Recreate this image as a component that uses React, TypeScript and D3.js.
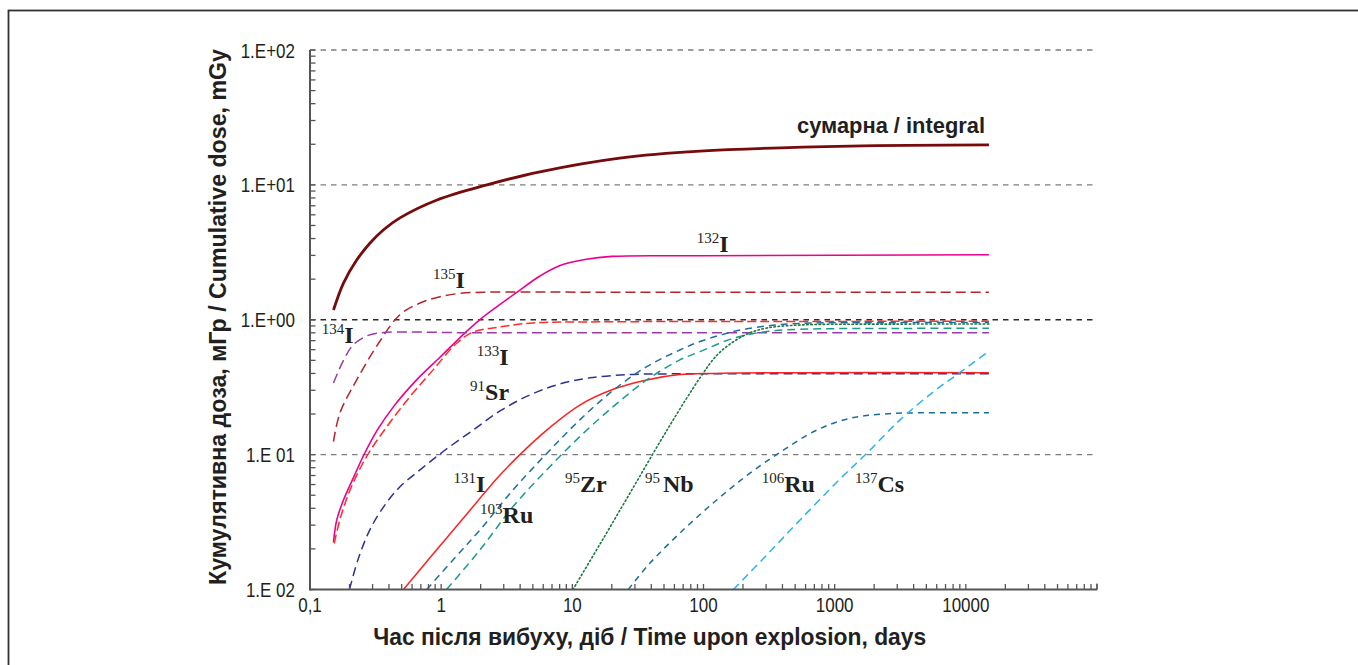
import React from 'react';
import * as d3 from 'd3';

type Pt = [number, number];

// ---- axis ticks ----
const xTickValues = [0.1, 1, 10, 100, 1000, 10000];
const xTickLabels = ['0,1', '1', '10', '100', '1000', '10000'];
const yTickValues = [100, 10, 1, 0.1, 0.01];
const yTickLabels = ['1.E+02', '1.E+01', '1.E+00', '1.E 01', '1.E 02'];

// ---- series: [days, cumulative dose mGy] ----
const integralDose: Pt[] = [[0.151, 1.18], [0.18, 1.87], [0.227, 2.77], [0.286, 3.69], [0.362, 4.63], [0.485, 5.69], [0.93, 7.73], [2.23, 10], [5.66, 12.5], [23, 15.8], [94, 17.8], [1310, 19.4], [15000, 19.8]];
const i132: Pt[] = [[0.151, 0.0224], [0.16, 0.0328], [0.18, 0.0461], [0.214, 0.0672], [0.255, 0.0977], [0.323, 0.15], [0.432, 0.226], [0.65, 0.358], [0.98, 0.527], [1.52, 0.8], [2.04, 1.03], [3.72, 1.58], [5.66, 2.11], [8.05, 2.53], [12.5, 2.8], [20, 2.95], [100, 2.98], [15000, 3.03]];
const i135: Pt[] = [[0.151, 0.125], [0.169, 0.203], [0.227, 0.358], [0.34, 0.69], [0.485, 1.09], [0.69, 1.33], [0.98, 1.48], [1.39, 1.57], [2.1, 1.6], [20, 1.6], [15000, 1.6]];
const i134: Pt[] = [[0.151, 0.34], [0.18, 0.5], [0.213, 0.65], [0.272, 0.76], [0.342, 0.8], [2, 0.8], [15000, 0.8]];
const i133: Pt[] = [[0.153, 0.022], [0.169, 0.0328], [0.202, 0.0547], [0.27, 0.0967], [0.385, 0.161], [0.578, 0.269], [0.867, 0.425], [1.32, 0.673], [1.75, 0.81], [2.81, 0.885], [5.0, 0.947], [16.3, 0.965], [200, 0.97], [15000, 0.975]];
const sr91: Pt[] = [[0.2, 0.01], [0.232, 0.0166], [0.286, 0.0277], [0.373, 0.0424], [0.485, 0.0577], [0.69, 0.0771], [1.03, 0.105], [1.75, 0.152], [2.81, 0.211], [4.75, 0.277], [8.05, 0.334], [13.6, 0.371], [27.6, 0.393], [55.6, 0.397], [200, 0.397], [15000, 0.397]];
const i131: Pt[] = [[0.516, 0.01], [0.871, 0.0184], [1.57, 0.0363], [2.81, 0.0705], [4.11, 0.103], [6.38, 0.152], [11.4, 0.233], [20.5, 0.305], [36.9, 0.358], [66, 0.392], [119, 0.4], [500, 0.405], [15000, 0.405]];
const ru103: Pt[] = [[0.776, 0.01], [1.31, 0.0177], [1.98, 0.0277], [3.53, 0.0547], [6.38, 0.102], [11.4, 0.181], [20.5, 0.3], [36.9, 0.449], [66, 0.597], [94, 0.689], [169, 0.817], [303, 0.9], [545, 0.94], [3000, 0.952], [15000, 0.955]];
const zr95: Pt[] = [[1.1, 0.01], [1.98, 0.0197], [3.53, 0.0412], [6.38, 0.0771], [11.4, 0.136], [20.5, 0.227], [36.9, 0.358], [66, 0.504], [94, 0.58], [169, 0.73], [303, 0.817], [545, 0.85], [3000, 0.862], [15000, 0.865]];
const nb95: Pt[] = [[10.1, 0.01], [16.3, 0.0218], [29, 0.0566], [52.7, 0.152], [94, 0.371], [127, 0.548], [168, 0.684], [226, 0.8], [305, 0.869], [545, 0.914], [3000, 0.928], [15000, 0.93]];
const ru106: Pt[] = [[26.7, 0.01], [39.1, 0.0157], [70.2, 0.0277], [126, 0.0461], [226, 0.0728], [406, 0.108], [729, 0.152], [1309, 0.186], [2350, 0.2], [4220, 0.204], [15000, 0.204]];
const cs137: Pt[] = [[169, 0.01], [303, 0.018], [545, 0.0328], [1099, 0.066], [1754, 0.102], [3150, 0.181], [5650, 0.292], [8510, 0.39], [14750, 0.577]];

// ---- isotope labels: superscript mass number, element, anchor [days, dose] ----
const isoSup = ['132', '135', '134', '133', '91', '131', '103', '95', '95', '106', '137'];
const isoEl = ['I', 'I', 'I', 'I', 'Sr', 'I', 'Ru', 'Zr', 'Nb', 'Ru', 'Cs'];
const isoAnchor: Pt[] = [[89, 3.18], [0.866, 1.72], [0.123, 0.673], [1.87, 0.462], [1.66, 0.254], [1.24, 0.0529], [1.98, 0.0312], [8.79, 0.0529], [35.8, 0.0529], [278, 0.0529], [1430, 0.0529]];
const isoGap = [0, 0, 0, 0, 0, 0, 0, 0, 3, 0, 0];

const integralLabel = 'сумарна / integral';
const integralLabelAnchor: Pt = [14000, 24.3];
const xTitle = 'Час після вибуху, діб / Time upon explosion, days';
const yTitle = 'Кумулятивна доза, мГр / Cumulative dose, mGy';

const series = [
  { data: i132, color: '#ec008c', width: 1.6, dash: undefined as string | undefined },
  { data: i135, color: '#b3242b', width: 1.5, dash: '10,5' },
  { data: i134, color: '#9a3aa6', width: 1.5, dash: '10,5' },
  { data: i133, color: '#ff2b2b', width: 1.5, dash: '9,4' },
  { data: sr91, color: '#2e3192', width: 1.5, dash: '9,5' },
  { data: i131, color: '#ff2020', width: 1.5, dash: undefined },
  { data: ru103, color: '#1f6f9b', width: 1.5, dash: '7,5' },
  { data: zr95, color: '#1a9c8c', width: 1.5, dash: '8,5' },
  { data: nb95, color: '#167a3c', width: 1.6, dash: '1.5,2.6' },
  { data: ru106, color: '#1b6e96', width: 1.5, dash: '6,5' },
  { data: cs137, color: '#29b3ea', width: 1.5, dash: '8,5' },
  { data: integralDose, color: '#770a0a', width: 2.8, dash: undefined },
];

const W = 1358;
const H = 665;
const X0 = 310, X1 = 1097, Y0 = 589.5, Y1 = 50;

export default function App() {
  const x = d3.scaleLog().domain([0.1, 100000]).range([X0, X1]);
  const y = d3.scaleLog().domain([0.01, 100]).range([Y0, Y1]);
  const line = d3.line<Pt>().x(d => x(d[0])).y(d => y(d[1])).curve(d3.curveCatmullRom.alpha(0.5));
  const xMinor = x.ticks();
  const yMinor = y.ticks();
  const textColor = '#231f20';

  return (
    <svg width={W} height={H} style={{ position: 'absolute', left: 0, top: 0 }}>
      <rect x={0} y={0} width={W} height={H} fill="#fff" />
      <rect x={8.5} y={10.5} width={1500} height={1000} fill="none" stroke="#333" strokeWidth={1.8} />
      <defs>
        <clipPath id="plot">
          <rect x={X0} y={Y1 - 5} width={X1 - X0} height={Y0 - Y1 + 5} />
        </clipPath>
      </defs>
      {/* gridlines */}
      {yTickValues.filter(v => v > 0.01).map(v => (
        <line key={'g' + v} x1={X0} x2={X1} y1={y(v)} y2={y(v)}
          stroke={v === 1 ? '#2a2a2a' : '#7d7d7d'} strokeWidth={1.4} strokeDasharray="5.5,5" />
      ))}
      {/* series */}
      <g clipPath="url(#plot)" fill="none">
        {series.map((s, i) => (
          <path key={i} d={line(s.data) || ''} stroke={s.color} strokeWidth={s.width}
            strokeDasharray={s.dash} strokeLinecap={s.dash && s.dash.startsWith('1.5') ? 'round' : 'butt'} />
        ))}
      </g>
      {/* axes */}
      <g stroke="#555" strokeWidth={1.3}>
        {yMinor.map((v, i) => (
          <line key={'yt' + i} x1={X0} x2={X0 + 5.5} y1={y(v)} y2={y(v)} />
        ))}
        {xMinor.map((v, i) => (
          <line key={'xt' + i} x1={x(v)} x2={x(v)} y1={Y0} y2={Y0 - 5.5} />
        ))}
        <line x1={X1} x2={X1} y1={Y0} y2={Y0 - 6} />
      </g>
      <line x1={X0} x2={X0} y1={Y1} y2={Y0 + 1} stroke="#555" strokeWidth={2} />
      <line x1={X0} x2={X1} y1={Y0} y2={Y0} stroke="#555" strokeWidth={2} />
      {/* tick labels */}
      <g fontFamily="'Liberation Sans', Arial, sans-serif" fontSize={20} fill={textColor}>
        {yTickValues.map((v, i) => (
          <text key={'yl' + i} transform={`translate(295,${y(v) + 7.5}) scale(0.85,1)`} textAnchor="end">{yTickLabels[i]}</text>
        ))}
        {xTickValues.map((v, i) => (
          <text key={'xl' + i} transform={`translate(${x(v)},${Y0 + 22.5}) scale(0.85,1)`} textAnchor="middle">{xTickLabels[i]}</text>
        ))}
      </g>
      {/* axis titles */}
      <text x={649.7} y={645} textAnchor="middle" fontFamily="'Liberation Sans', Arial, sans-serif"
        fontWeight="bold" fontSize={24} fill={textColor} textLength={553} lengthAdjust="spacingAndGlyphs">{xTitle}</text>
      <text transform="translate(226,317) rotate(-90)" textAnchor="middle" fontFamily="'Liberation Sans', Arial, sans-serif"
        fontWeight="bold" fontSize={24} fill={textColor} textLength={536} lengthAdjust="spacingAndGlyphs">{yTitle}</text>
      {/* integral label */}
      <text x={x(integralLabelAnchor[0])} y={y(integralLabelAnchor[1])} textAnchor="end"
        fontFamily="'Liberation Sans', Arial, sans-serif" fontWeight="bold" fontSize={22} fill={textColor}
        textLength={188} lengthAdjust="spacingAndGlyphs">{integralLabel}</text>
      {/* isotope labels */}
      <g fontFamily="'Liberation Serif', 'Times New Roman', serif" fill={textColor}>
        {isoSup.map((s, i) => (
          <text key={'iso' + i} x={x(isoAnchor[i][0])} y={y(isoAnchor[i][1])}>
            <tspan fontSize={15} dy={-9}>{s}</tspan>
            <tspan fontSize={24} fontWeight="bold" dy={9} dx={isoGap[i]}>{isoEl[i]}</tspan>
          </text>
        ))}
      </g>
    </svg>
  );
}
